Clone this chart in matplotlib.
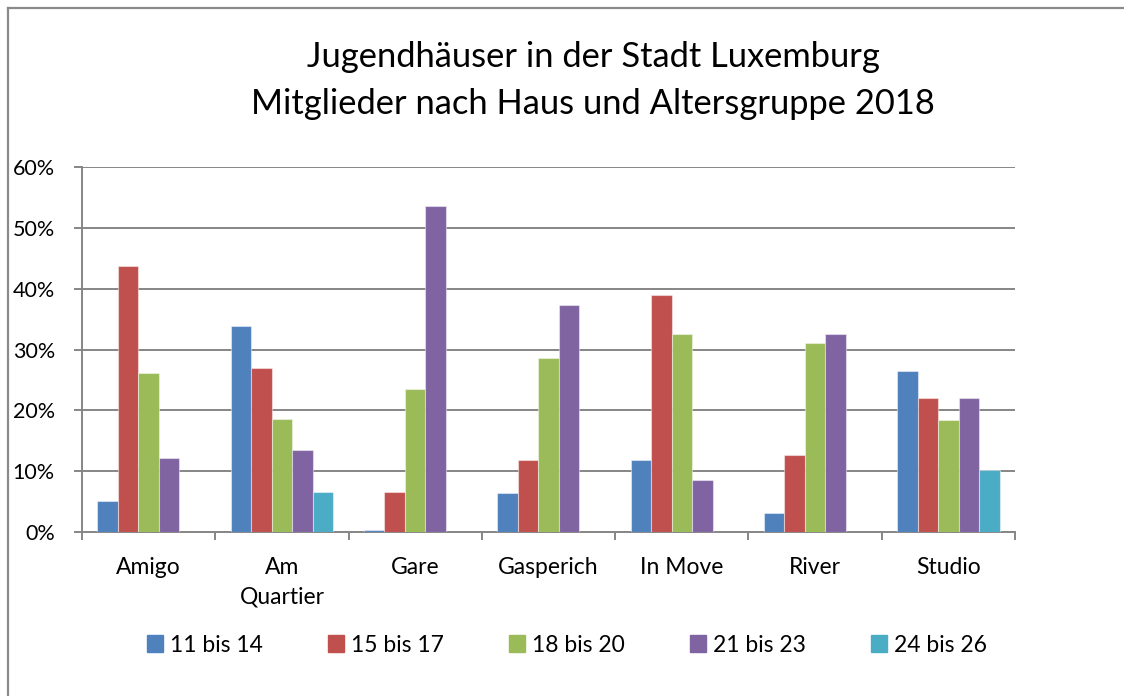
import matplotlib
matplotlib.use("Agg")
import matplotlib.pyplot as plt
import numpy as np
from matplotlib.ticker import FuncFormatter, FixedLocator
from matplotlib.patches import Rectangle
from matplotlib.lines import Line2D

plt.rcParams['font.family'] = ['Lato', 'DejaVu Sans']

categories = ["Amigo", "Am\nQuartier", "Gare", "Gasperich", "In Move", "River", "Studio"]
series_names = ["11 bis 14", "15 bis 17", "18 bis 20", "21 bis 23", "24 bis 26"]
s_11_14 = [5.1, 33.8, 0.3, 6.4, 11.9, 3.2, 26.5]
s_15_17 = [43.7, 27.0, 6.6, 11.8, 39.0, 12.6, 22.1]
s_18_20 = [26.2, 18.5, 23.5, 28.6, 32.6, 31.1, 18.4]
s_21_23 = [12.1, 13.4, 53.6, 37.3, 8.5, 32.6, 22.1]
s_24_26 = [0.0, 6.6, 0.0, 0.0, 0.0, 0.0, 10.2]
colors = ["#4F81BD", "#C0504D", "#9BBB59", "#8064A2", "#4BACC6"]
yticks = [0, 10, 20, 30, 40, 50, 60]
title = "Jugendhäuser in der Stadt Luxemburg\nMitglieder nach Haus und Altersgruppe 2018"

W, H = 1124, 696
fig = plt.figure(figsize=(W / 100, H / 100), dpi=100)

# outer chart frame (left and top edges visible)
fig.add_artist(Line2D([8 / W, 8 / W], [0, 1 - 8 / H], color="#8a8a8a", lw=1.6))
fig.add_artist(Line2D([8 / W, 1], [1 - 8 / H, 1 - 8 / H], color="#8a8a8a", lw=1.6))

left, right, top, bottom = 82, 1015, 167, 532
ax = fig.add_axes([left / W, 1 - bottom / H, (right - left) / W, (bottom - top) / H])

series = [s_11_14, s_15_17, s_18_20, s_21_23, s_24_26]
n = len(series)
x = np.arange(len(categories))
bw = 1.0 / (n + 1.5)
for i, (vals, c, name) in enumerate(zip(series, colors, series_names)):
    offs = (i - (n - 1) / 2) * bw
    ax.bar(x + offs, vals, width=bw, color=c, edgecolor=(1, 1, 1, 0.45), linewidth=0.8,
           label=name, zorder=3)

ax.set_xlim(-0.5, len(categories) - 0.5)
ax.set_ylim(0, 60)
ax.yaxis.set_major_locator(FixedLocator(yticks))
ax.yaxis.set_major_formatter(FuncFormatter(lambda v, p: f"{int(v)}%"))
ax.grid(axis="y", color="#868686", lw=1.4, zorder=0)
for s in ["top", "right"]:
    ax.spines[s].set_visible(False)
for s in ["left", "bottom"]:
    ax.spines[s].set_color("#868686")
    ax.spines[s].set_linewidth(1.4)

ax.set_xticks(np.arange(-0.5, len(categories), 1.0))
ax.set_xticklabels([])
ax.set_xticks(x, minor=True)
ax.set_xticklabels(categories, minor=True, fontsize=16.5, color="#000000", linespacing=1.5, va="top")
ax.tick_params(axis="x", which="major", length=6, width=1.4, color="#868686", direction="out")
ax.tick_params(axis="x", which="minor", length=0, pad=18)
ax.tick_params(axis="y", length=6, width=1.4, color="#868686", labelsize=15.5, pad=13.5)

fig.text(593 / W, 1 - 80.5 / H, title, ha="center", va="center", fontsize=24.8, linespacing=1.57)

handles = [Rectangle((0, 0), 1, 1, color=c) for c in colors]
leg = fig.legend(handles, series_names, loc="center", bbox_to_anchor=(567 / W, 1 - 645 / H),
                 ncol=5, frameon=False, fontsize=16.5, handlelength=0.7, handleheight=0.7,
                 handletextpad=0.3, columnspacing=2.85)

fig.savefig("out.png", dpi=100)
